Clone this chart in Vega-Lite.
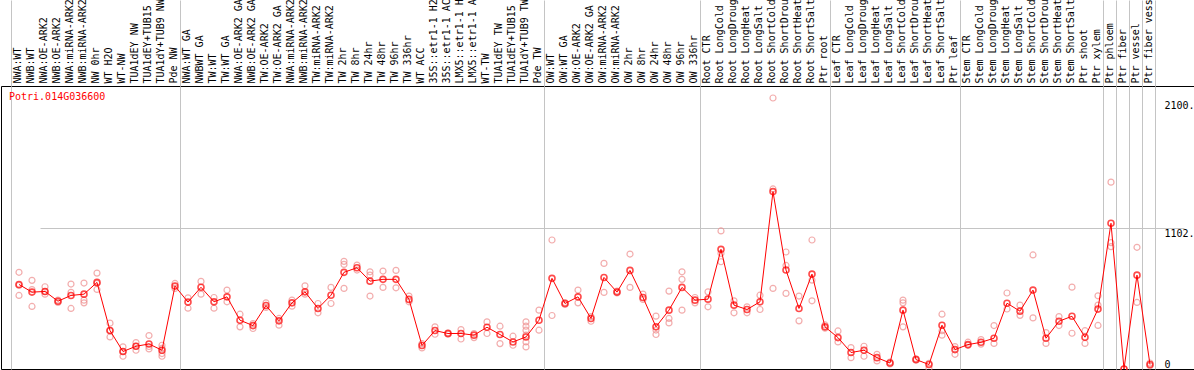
{
  "$schema": "https://vega.github.io/schema/vega-lite/v6.json",
  "autosize": {"type": "none"},
  "padding": {"left": 1, "top": 86, "right": 0, "bottom": 1},
  "width": 1193,
  "height": 283,
  "background": "white",
  "config": {"view": {"stroke": "black", "strokeWidth": 1}, "font": "DejaVu Sans Mono"},
  "data": {"values": [
    {"key": "00|NWA:WT", "m": 662, "r": [757, 655, 576]},
    {"key": "01|NWB:WT", "m": 602, "r": [694, 622, 490]},
    {"key": "02|NWA:OE-ARK2", "m": 607, "r": [644, 607, 586]},
    {"key": "03|NWB:OE-ARK2", "m": 531, "r": [540, 522]},
    {"key": "04|NWA:miRNA-ARK2", "m": 576, "r": [665, 600, 474]},
    {"key": "05|NWB:miRNA-ARK2", "m": 586, "r": [673, 539, 518]},
    {"key": "06|NW 0hr", "m": 678, "r": [751, 671, 623]},
    {"key": "07|WT H2O", "m": 301, "r": [359, 301, 251]},
    {"key": "08|WT-NW", "m": 137, "r": [173, 137, 100]},
    {"key": "09|TUA1dEY NW", "m": 178, "r": [207, 178, 147]},
    {"key": "10|TUA1dEY+TUB15", "m": 196, "r": [262, 176, 157]},
    {"key": "11|TUA1dY+TUB9 NW", "m": 147, "r": [186, 162, 121, 100]},
    {"key": "12|Pde NW", "m": 649, "r": [670, 631]},
    {"key": "13|NWA:WT GA", "m": 524, "r": [557, 476]},
    {"key": "14|NWBWT GA", "m": 640, "r": [686, 586]},
    {"key": "15|TW:WT", "m": 526, "r": [560, 476]},
    {"key": "16|TW:WT GA", "m": 565, "r": [618, 526]},
    {"key": "17|NWA:OE-ARK2 GA", "m": 382, "r": [429, 330]},
    {"key": "18|NWB:OE-ARK2 GA", "m": 340, "r": [356, 317]},
    {"key": "19|TW:OE-ARK2", "m": 497, "r": [518, 482]},
    {"key": "20|TW:OE-ARK2 GA", "m": 377, "r": [396, 343]},
    {"key": "21|NWA:miRNA-ARK2", "m": 518, "r": [539, 492]},
    {"key": "22|NWB:miRNA-ARK2", "m": 604, "r": [651, 586]},
    {"key": "23|TW:miRNA-ARK2", "m": 474, "r": [513, 440]},
    {"key": "24|TW:miRNA-ARK2", "m": 578, "r": [639, 513]},
    {"key": "25|TW 2hr", "m": 757, "r": [843, 819, 631]},
    {"key": "26|TW 8hr", "m": 793, "r": [814, 775]},
    {"key": "27|TW 24hr", "m": 688, "r": [761, 735, 571]},
    {"key": "28|TW 48hr", "m": 702, "r": [767, 639]},
    {"key": "29|TW 96hr", "m": 702, "r": [772, 636]},
    {"key": "30|TW 336hr", "m": 545, "r": [571, 526]},
    {"key": "31|WT ACC", "m": 184, "r": [165, 199]},
    {"key": "32|35S::etr1-1 H2", "m": 301, "r": [330, 272]},
    {"key": "33|35S::etr1-1 AC", "m": 278, "r": [283, 272]},
    {"key": "34|LMX5::etr1-1 H", "m": 278, "r": [309, 235]},
    {"key": "35|LMX5::etr1-1 A", "m": 265, "r": [278, 246]},
    {"key": "36|WT-TW", "m": 327, "r": [369, 278]},
    {"key": "37|TUA1dEY TW", "m": 270, "r": [335, 199]},
    {"key": "38|TUA1dEY+TUB15", "m": 212, "r": [257, 186]},
    {"key": "39|TUA1dY+TUB9 TW", "m": 251, "r": [369, 335, 304, 265, 212, 173]},
    {"key": "40|Pde TW", "m": 382, "r": [461, 304]},
    {"key": "41|OW:WT", "m": 710, "r": [1010, 419]},
    {"key": "42|OW:WT GA", "m": 513, "r": [520, 505]},
    {"key": "43|OW:OE-ARK2", "m": 565, "r": [618, 518]},
    {"key": "44|OW:OE-ARK2 GA", "m": 396, "r": [410, 374]},
    {"key": "45|OW:miRNA-ARK2", "m": 717, "r": [827, 600]},
    {"key": "46|OW:miRNA-ARK2", "m": 602, "r": [610, 595]},
    {"key": "47|OW 2hr", "m": 772, "r": [900, 639]},
    {"key": "48|OW 8hr", "m": 560, "r": [586, 545]},
    {"key": "49|OW 24hr", "m": 330, "r": [414, 305, 270]},
    {"key": "50|OW 48hr", "m": 461, "r": [610, 396, 361]},
    {"key": "51|OW 96hr", "m": 639, "r": [761, 702, 461]},
    {"key": "52|OW 336hr", "m": 539, "r": [560, 518]},
    {"key": "53|Root CTR", "m": 547, "r": [604, 487]},
    {"key": "54|Root LongCold", "m": 937, "r": [1081, 906, 840]},
    {"key": "55|Root LongDroug", "m": 500, "r": [534, 440]},
    {"key": "56|Root LongHeat", "m": 466, "r": [487, 440]},
    {"key": "57|Root LongSalt", "m": 526, "r": [578, 466]},
    {"key": "58|Root ShortCold", "m": 1389, "r": [2122, 1410, 631]},
    {"key": "59|Root ShortDrou", "m": 775, "r": [916, 811, 592]},
    {"key": "60|Root ShortHeat", "m": 474, "r": [571, 377]},
    {"key": "61|Root ShortSalt", "m": 743, "r": [1010, 696, 534]},
    {"key": "62|Ptr root", "m": 330, "r": [345, 320]},
    {"key": "63|Leaf CTR", "m": 246, "r": [298, 212]},
    {"key": "64|Leaf LongCold", "m": 129, "r": [168, 89]},
    {"key": "65|Leaf LongDroug", "m": 147, "r": [178, 100]},
    {"key": "66|Leaf LongHeat", "m": 89, "r": [115, 63]},
    {"key": "67|Leaf LongSalt", "m": 47, "r": [55, 40]},
    {"key": "68|Leaf ShortCold", "m": 461, "r": [539, 518, 330]},
    {"key": "69|Leaf ShortDrou", "m": 74, "r": [80, 68]},
    {"key": "70|Leaf ShortHeat", "m": 35, "r": [5, 45]},
    {"key": "71|Leaf ShortSalt", "m": 343, "r": [429, 300, 265]},
    {"key": "72|Ptr leaf", "m": 152, "r": [115, 175]},
    {"key": "73|Stem CTR", "m": 191, "r": [210, 185]},
    {"key": "74|Stem LongCold", "m": 209, "r": [230, 195]},
    {"key": "75|Stem LongDroug", "m": 241, "r": [340, 200]},
    {"key": "76|Stem LongHeat", "m": 515, "r": [595, 470]},
    {"key": "77|Stem LongSalt", "m": 453, "r": [500, 420]},
    {"key": "78|Stem ShortCold", "m": 618, "r": [893, 400]},
    {"key": "79|Stem ShortDrou", "m": 241, "r": [285, 200]},
    {"key": "80|Stem ShortHeat", "m": 374, "r": [410, 340]},
    {"key": "81|Stem ShortSalt", "m": 413, "r": [641, 280]},
    {"key": "82|Ptr shoot", "m": 249, "r": [300, 200]},
    {"key": "83|Ptr xylem", "m": 469, "r": [573, 500, 341]},
    {"key": "84|Ptr phloem", "m": 1141, "r": [1463, 989, 958]},
    {"key": "85|Ptr fiber", "m": 0, "r": [0]},
    {"key": "86|Ptr vessel", "m": 735, "r": [953, 521]},
    {"key": "87|Ptr fiber vess", "m": 35, "r": [47, 25]}
  ]},
  "encoding": {
    "x": {
      "field": "key",
      "type": "ordinal",
      "scale": {"type": "band", "paddingInner": 0, "paddingOuter": 0, "range": [10, 1154]},
      "axis": {
        "orient": "top",
        "title": null,
        "labelAngle": -90,
        "labelAlign": "left",
        "labelBaseline": "middle",
        "labelExpr": "substring(datum.label, 3)",
        "labelFont": "DejaVu Sans Mono",
        "labelFontSize": 10,
        "labelColor": "black",
        "labelPadding": -83,
        "labelOverlap": false,
        "labelBound": false,
        "labelFlush": false,
        "domain": false,
        "ticks": true,
        "tickSize": 86,
        "tickColor": "#c4c4c4",
        "tickWidth": 1,
        "tickBand": "extent",
        "tickOpacity": {"condition": {"test": "indexof([12,40,52,62,72,83,84,85,86,87], toNumber(substring(datum.value,0,2))) >= 0 || isObject(datum.extra)", "value": 1}, "value": 0},
        "grid": true,
        "gridColor": "#c4c4c4",
        "gridWidth": 1,
        "gridOpacity": {"condition": {"test": "indexof([12,40,52,62,72,83,84,85,86,87], toNumber(substring(datum.value,0,2))) >= 0 || isObject(datum.extra)", "value": 1}, "value": 0}
      }
    }
  },
  "layer": [
    {
      "transform": [{"flatten": ["r"], "as": ["rv"]}],
      "mark": {"type": "point", "shape": "circle", "filled": false, "color": "#ee8c8c", "size": 36, "strokeWidth": 1.2},
      "encoding": {
        "x": {"field": "key", "type": "ordinal", "bandPosition": 0.615},
        "y": {"field": "rv", "type": "quantitative", "scale": {"domain": [0, 2216], "nice": false, "zero": true},
          "axis": {"orient": "right", "offset": -30, "title": null, "values": [0, 1102, 2100], "format": "d",
            "labelExpr": "datum.value == 0 ? '0' : datum.label + '.'", "domain": false, "ticks": false, "labelPadding": 0,
            "labelAlign": "left", "labelBaseline": {"condition": {"test": "datum.value == 0", "value": "bottom"}, "value": "top"},
            "labelFont": "DejaVu Sans Mono", "labelFontSize": 10, "labelColor": "black", "labelFlush": false, "labelOverlap": false,
            "grid": true, "gridColor": "#c4c4c4", "gridOpacity": {"condition": {"test": "datum.value == 1102", "value": 1}, "value": 0}}}
      }
    },
    {
      "mark": {"type": "line", "color": "#ff0000", "strokeWidth": 1},
      "encoding": {
        "x": {"field": "key", "type": "ordinal", "bandPosition": 0.615},
        "y": {"field": "m", "type": "quantitative", "scale": {"domain": [0, 2216], "nice": false, "zero": true},
          "axis": {"orient": "right", "offset": -30, "title": null, "values": [0, 1102, 2100], "format": "d",
            "labelExpr": "datum.value == 0 ? '0' : datum.label + '.'", "domain": false, "ticks": false, "labelPadding": 0,
            "labelAlign": "left", "labelBaseline": {"condition": {"test": "datum.value == 0", "value": "bottom"}, "value": "top"},
            "labelFont": "DejaVu Sans Mono", "labelFontSize": 10, "labelColor": "black", "labelFlush": false, "labelOverlap": false,
            "grid": true, "gridColor": "#c4c4c4", "gridOpacity": {"condition": {"test": "datum.value == 1102", "value": 1}, "value": 0}}}
      }
    },
    {
      "mark": {"type": "point", "shape": "circle", "filled": false, "color": "#ff0000", "size": 36, "strokeWidth": 1.6},
      "encoding": {
        "x": {"field": "key", "type": "ordinal", "bandPosition": 0.615},
        "y": {"field": "m", "type": "quantitative", "scale": {"domain": [0, 2216], "nice": false, "zero": true},
          "axis": {"orient": "right", "offset": -30, "title": null, "values": [0, 1102, 2100], "format": "d",
            "labelExpr": "datum.value == 0 ? '0' : datum.label + '.'", "domain": false, "ticks": false, "labelPadding": 0,
            "labelAlign": "left", "labelBaseline": {"condition": {"test": "datum.value == 0", "value": "bottom"}, "value": "top"},
            "labelFont": "DejaVu Sans Mono", "labelFontSize": 10, "labelColor": "black", "labelFlush": false, "labelOverlap": false,
            "grid": true, "gridColor": "#c4c4c4", "gridOpacity": {"condition": {"test": "datum.value == 1102", "value": 1}, "value": 0}}}
      }
    },
    {
      "transform": [{"filter": "datum.key == '00|NWA:WT'"}],
      "mark": {"type": "text", "text": "Potri.014G036600", "align": "left", "baseline": "top", "color": "#ff0000", "font": "DejaVu Sans Mono", "fontSize": 10, "dx": -2, "dy": 6},
      "encoding": {
        "x": {"field": "key", "type": "ordinal", "bandPosition": 0},
        "y": {"datum": 2216, "type": "quantitative", "scale": {"domain": [0, 2216], "nice": false, "zero": true},
          "axis": {"orient": "right", "offset": -30, "title": null, "values": [0, 1102, 2100], "format": "d",
            "labelExpr": "datum.value == 0 ? '0' : datum.label + '.'", "domain": false, "ticks": false, "labelPadding": 0,
            "labelAlign": "left", "labelBaseline": {"condition": {"test": "datum.value == 0", "value": "bottom"}, "value": "top"},
            "labelFont": "DejaVu Sans Mono", "labelFontSize": 10, "labelColor": "black", "labelFlush": false, "labelOverlap": false,
            "grid": true, "gridColor": "#c4c4c4", "gridOpacity": {"condition": {"test": "datum.value == 1102", "value": 1}, "value": 0}}}
      }
    }
  ]
}
